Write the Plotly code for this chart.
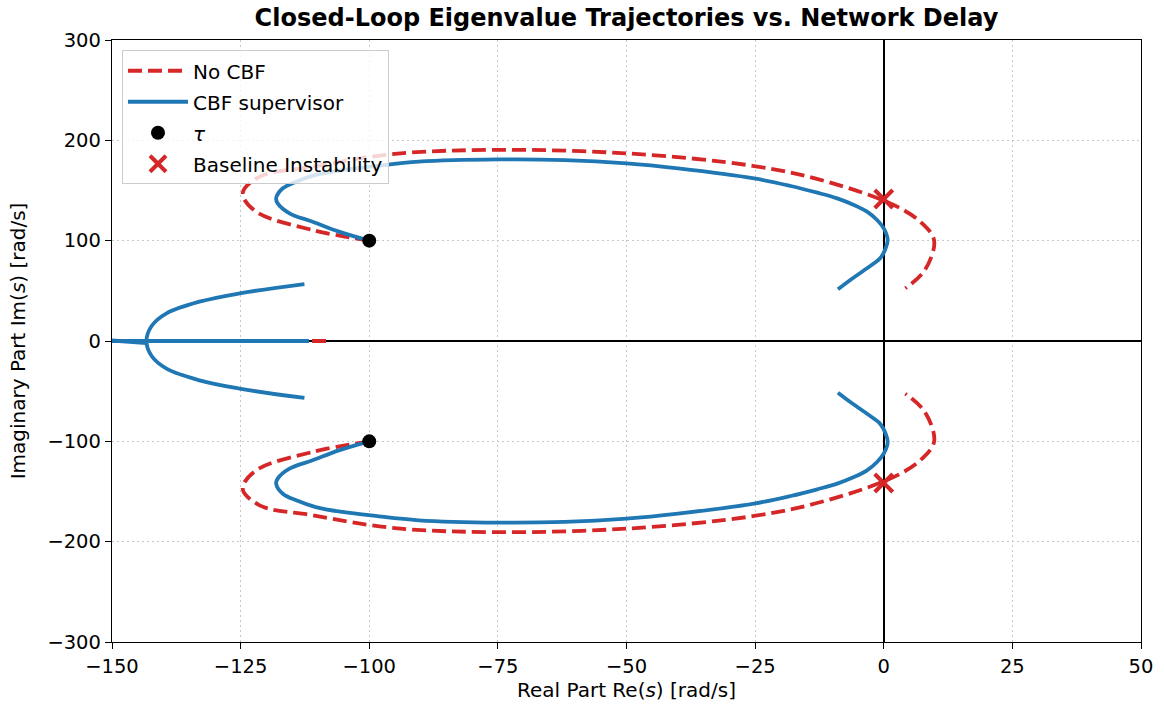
# -*- coding: utf-8 -*-
"""
plot.py

Closed-loop eigenvalue trajectories vs. network delay, with and without
the CBF supervisor. Values read off the reference figure.
"""

import plotly.graph_objects as go


# =============================================================================
# Data (upper half-plane; the lower branch is the complex conjugate)
# =============================================================================
NOCBF_RE = [-100, -111, -122, -124.6, -121.3, -111, -95, -75, -50, -25.2,
            -11, 2.6, 7.5, 9.8, 8.0, 4.2]
NOCBF_IM = [100, 110.6, 128.9, 147.2, 163.8, 173.7, 186.5, 190.5, 187, 174.4,
            158.8, 133.9, 117, 100, 70.8, 52.5]

CBF_RE = [-100, -105.9, -111, -115.5, -117.8, -118.1, -116.8, -114.2, -110.4,
          -105.2, -98.8, -90.4, -75, -62, -50, -40, -25.2, -18.1, -12.9,
          -9.05, -5.8, -3.25, -1.3, 0, 0.77, 0.3, -0.7, -1.95, -3.25, -6.5,
          -8.9]
CBF_IM = [100, 109, 118.9, 127.3, 137.2, 142.2, 152.2, 158.8, 165.5,
          170.4, 174.4, 178.7, 181, 180.3, 177, 172, 162, 154.5, 147.8,
          142.2, 135.6, 128.9, 120.6, 112.3, 100.7, 91.5, 82.4, 77.2, 72.5,
          60.8, 51.5]

# CBF branch leaving the real axis (upper half)
CBF_SPLIT_RE = [-112.6, -125.2, -133, -139.4, -142.3, -143.3]
CBF_SPLIT_IM = [56.8, 47.5, 39.2, 27.6, 15, 0]

# real-axis segments
NOCBF_AXIS_RE = [-150, -107.6]
CBF_AXIS_RE = [-150, -111.7]
CBF_STUB_RE = [-150, -143.3]
CBF_STUB_IM = [0.5, -2]

TAU_RE = [-100, -100]
TAU_IM = [100, -100]

BASE_RE = [0, 0]
BASE_IM = [141.5, -141.5]

X_TICKS = [-150, -125, -100, -75, -50, -25, 0, 25, 50]
Y_TICKS = [-300, -200, -100, 0, 100, 200, 300]

RED = "#d62728"
BLUE = "#1f77b4"
FONT = "DejaVu Sans"

FIG_W = 1165
FIG_H = 711


def conj(vals):
    return [-v for v in vals]


def branch(re_up, im_up):
    """Upper branch, gap, conjugate branch."""
    xs = list(re_up) + [None] + list(re_up)
    ys = list(im_up) + [None] + conj(im_up)
    return xs, ys


# =============================================================================
# Figure
# =============================================================================
def build_figure():
    fig = go.Figure()

    # ---- No CBF (dashed red) ----
    nx, ny = branch(NOCBF_RE, NOCBF_IM)
    nx += [None] + NOCBF_AXIS_RE
    ny += [None] + [0, 0]
    fig.add_trace(go.Scatter(
        x=nx, y=ny, mode="lines", name="No CBF", legendgroup="a",
        line=dict(color=RED, width=3.8, dash="14px,6px", shape="spline"),
    ))

    # ---- CBF supervisor (solid blue) ----
    cx, cy = branch(CBF_RE, CBF_IM)
    split_x = CBF_SPLIT_RE + CBF_SPLIT_RE[::-1][1:]
    split_y = CBF_SPLIT_IM + conj(CBF_SPLIT_IM[::-1][1:])
    cx += [None] + split_x + [None] + CBF_AXIS_RE + [None] + CBF_STUB_RE
    cy += [None] + split_y + [None] + [0, 0] + [None] + CBF_STUB_IM
    fig.add_trace(go.Scatter(
        x=cx, y=cy, mode="lines", name="CBF supervisor", legendgroup="b",
        line=dict(color=BLUE, width=3.8, shape="spline"),
    ))

    # ---- markers ----
    fig.add_trace(go.Scatter(
        x=TAU_RE, y=TAU_IM, mode="markers", name="<i>τ</i>", legendgroup="c",
        marker=dict(color="black", size=14),
    ))
    fig.add_trace(go.Scatter(
        x=BASE_RE, y=BASE_IM, mode="markers", name="Baseline Instability",
        legendgroup="d",
        marker=dict(symbol="x-thin", size=18,
                    line=dict(color=RED, width=4)),
    ))

    axis_common = dict(
        showline=True, mirror=True, linecolor="black", linewidth=1.3,
        ticks="outside", ticklen=6, tickwidth=1.3, tickcolor="black",
        showgrid=True, gridcolor="#c8c8c8", gridwidth=1.2,
        griddash="1.5px,3.5px",
        zeroline=True, zerolinecolor="black", zerolinewidth=1.8,
        tickfont=dict(family=FONT, size=19.5, color="black"),
        title_font=dict(family=FONT, size=20, color="black"),
    )

    fig.update_xaxes(
        range=[-150, 50], tickvals=X_TICKS,
        title_text="Real Part Re(<i>s</i>) [rad/s]", title_standoff=4,
        **axis_common,
    )
    fig.update_yaxes(range=[-300, 300], tickvals=Y_TICKS, **axis_common)

    # y label placed by hand so it sits as close to the edge as the reference
    fig.add_annotation(
        text="Imaginary Part Im(<i>s</i>) [rad/s]",
        xref="paper", yref="paper", x=-0.091, y=0.5,
        xanchor="center", yanchor="middle", textangle=-90,
        showarrow=False, font=dict(family=FONT, size=20, color="black"),
    )

    fig.update_layout(
        width=FIG_W, height=FIG_H,
        margin=dict(l=112, r=20, t=40, b=69),
        paper_bgcolor="white", plot_bgcolor="white",
        font=dict(family=FONT, size=20, color="black"),
        title=dict(
            text="<b>Closed-Loop Eigenvalue Trajectories vs. Network Delay</b>",
            x=0.5, xref="paper", xanchor="center",
            y=1 - 18 / FIG_H, yanchor="middle",
            font=dict(family=FONT, size=24, color="black"),
        ),
        legend=dict(
            x=0.0097, y=0.983, xanchor="left", yanchor="top",
            bgcolor="rgba(255,255,255,0.8)",
            bordercolor="#cccccc", borderwidth=1,
            font=dict(family=FONT, size=20, color="black"),
            itemwidth=60, traceorder="grouped", tracegroupgap=2,
        ),
    )
    return fig


def main():
    fig = build_figure()
    # drop the default 8px page margin so the figure fills the window exactly
    fig.write_html(
        "out.html",
        config={"displayModeBar": False},
        post_script="document.body.style.margin='0';"
                    "document.body.style.overflow='hidden';",
    )


if __name__ == "__main__":
    main()
